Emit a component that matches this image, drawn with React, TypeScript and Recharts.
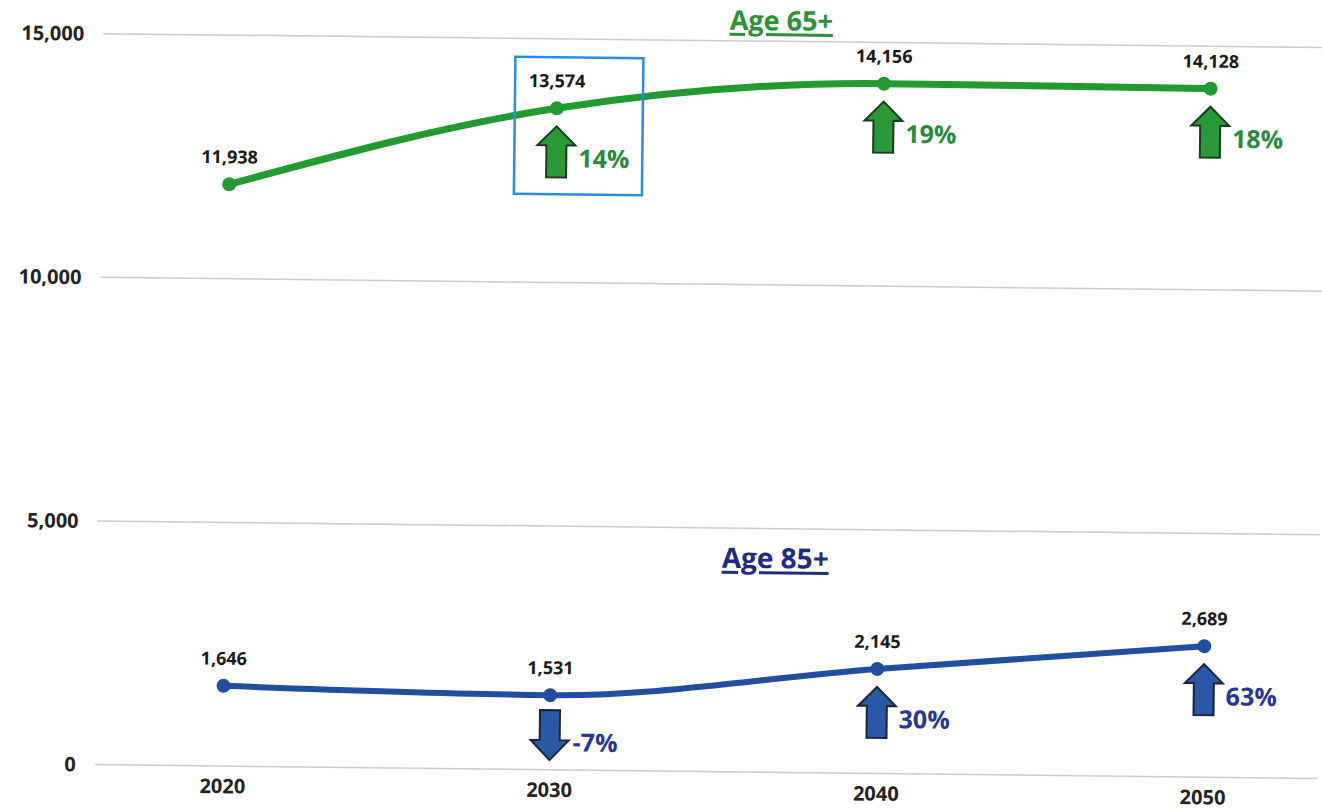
import * as React from 'react';
import {
	LineChart,
	Line,
	XAxis,
	YAxis,
	CartesianGrid,
	LabelList
} from 'recharts';

// data
const years = [2020, 2030, 2040, 2050];
const age65 = [11938, 13574, 14156, 14128];
const age85 = [1646, 1531, 2145, 2689];
const change65 = [null, 14, 19, 18];
const change85 = [null, -7, 30, 63];
const yTicks = [0, 5000, 10000, 15000];

const data = years.map((year, i) => ({
	year,
	age65: age65[i],
	age85: age85[i]
}));

const GREEN = '#229a31';
const BLUE = '#224e9f';
const FONT = '"Open Sans", "DejaVu Sans", sans-serif';

const fmt = (v: number) => v.toLocaleString('en-US');

const makeLabel = (
	changes: (number | null)[],
	arrowFill: string,
	arrowStroke: string,
	pctColor: string,
	boxIndex: number
) => (props: any) => {
	const { x, y, value, index } = props;
	const change = changes[index];
	let arrow = null;
	let pct = null;
	if (change !== null && change !== undefined) {
		if (change >= 0) {
			const d = `M${x - 10} ${y + 69} L${x - 10} ${y + 37} L${x - 19} ${y + 37} L${x} ${y + 18} L${x + 19} ${y + 37} L${x + 10} ${y + 37} L${x + 10} ${y + 69} Z`;
			arrow = <path d={d} fill={arrowFill} stroke={arrowStroke} strokeWidth={2} />;
			pct = (
				<text x={x + 22} y={y + 59} fill={pctColor} fontSize={25} fontWeight={700} fontFamily={FONT}>
					{`${change}%`}
				</text>
			);
		} else {
			const d = `M${x - 10} ${y + 15} L${x + 10} ${y + 15} L${x + 10} ${y + 45} L${x + 19} ${y + 45} L${x} ${y + 65} L${x - 19} ${y + 45} L${x - 10} ${y + 45} Z`;
			arrow = <path d={d} fill={arrowFill} stroke={arrowStroke} strokeWidth={2} />;
			pct = (
				<text x={x + 23} y={y + 56} fill={pctColor} fontSize={25} fontWeight={700} fontFamily={FONT}>
					{`${change}%`}
				</text>
			);
		}
	}
	return (
		<g>
			{index === boxIndex && (
				<rect x={x - 42} y={y - 51} width={128} height={137} fill="none" stroke="#2b8be0" strokeWidth={2.5} />
			)}
			<text x={x} y={y - 21} textAnchor="middle" fill="#1a1a1a" fontSize={18} fontWeight={700} fontFamily={FONT}>
				{fmt(value)}
			</text>
			{arrow}
			{pct}
		</g>
	);
};

const titleStyle = (color: string, top: number, size: number): React.CSSProperties => ({
	position: 'absolute',
	left: 777,
	top,
	transform: 'translateX(-50%)',
	fontFamily: FONT,
	fontSize: size,
	fontWeight: 700,
	lineHeight: `${size}px`,
	color,
	textDecoration: 'underline',
	textDecorationThickness: '3px',
	textUnderlineOffset: '3px',
	whiteSpace: 'nowrap'
});

export default function App() {
	React.useEffect(() => {
		document.body.style.margin = '0';
		document.body.style.overflow = 'hidden';
		document.body.style.background = '#fff';
	}, []);

	return (
		<div
			style={{
				position: 'relative',
				width: 1322,
				height: 809,
				background: '#fff',
				transform: 'rotate(0.65deg)',
				transformOrigin: '661px 404.5px'
			}}
		>
			<LineChart
				width={1322}
				height={809}
				data={data}
				margin={{ top: 40, right: 0, left: 0, bottom: 0 }}
			>
				<CartesianGrid vertical={false} stroke="#cccccc" strokeWidth={1.5} />
				<XAxis
					dataKey="year"
					type="number"
					domain={[2016.09, 2053.52]}
					ticks={years}
					axisLine={false}
					tickLine={false}
					tickSize={0}
					tickMargin={13}
					height={38}
					tick={{ fill: '#222', fontSize: 20, fontWeight: 700, fontFamily: FONT }}
				/>
				<YAxis
					domain={[0, 15000]}
					ticks={yTicks}
					tickFormatter={fmt}
					axisLine={false}
					tickLine={false}
					tickSize={0}
					tickMargin={19}
					width={99}
					tick={{ fill: '#222', fontSize: 20, fontWeight: 700, fontFamily: FONT }}
				/>
				<Line
					type="monotone"
					dataKey="age65"
					stroke={GREEN}
					strokeWidth={7}
					dot={{ r: 7, fill: GREEN, stroke: GREEN, strokeWidth: 0 }}
					activeDot={false}
					isAnimationActive={false}
				>
					<LabelList dataKey="age65" content={makeLabel(change65, '#2a9a38', '#1c3a1e', '#2a8a3c', 1)} />
				</Line>
				<Line
					type="monotone"
					dataKey="age85"
					stroke={BLUE}
					strokeWidth={6}
					dot={{ r: 7, fill: BLUE, stroke: BLUE, strokeWidth: 0 }}
					activeDot={false}
					isAnimationActive={false}
				>
					<LabelList dataKey="age85" content={makeLabel(change85, '#2a58a6', '#1a2440', '#263596', -1)} />
				</Line>
			</LineChart>
			<div style={titleStyle('#2a9236', 5, 27)}>Age 65+</div>
			<div style={titleStyle('#1f2c80', 542, 28)}>Age 85+</div>
		</div>
	);
}
